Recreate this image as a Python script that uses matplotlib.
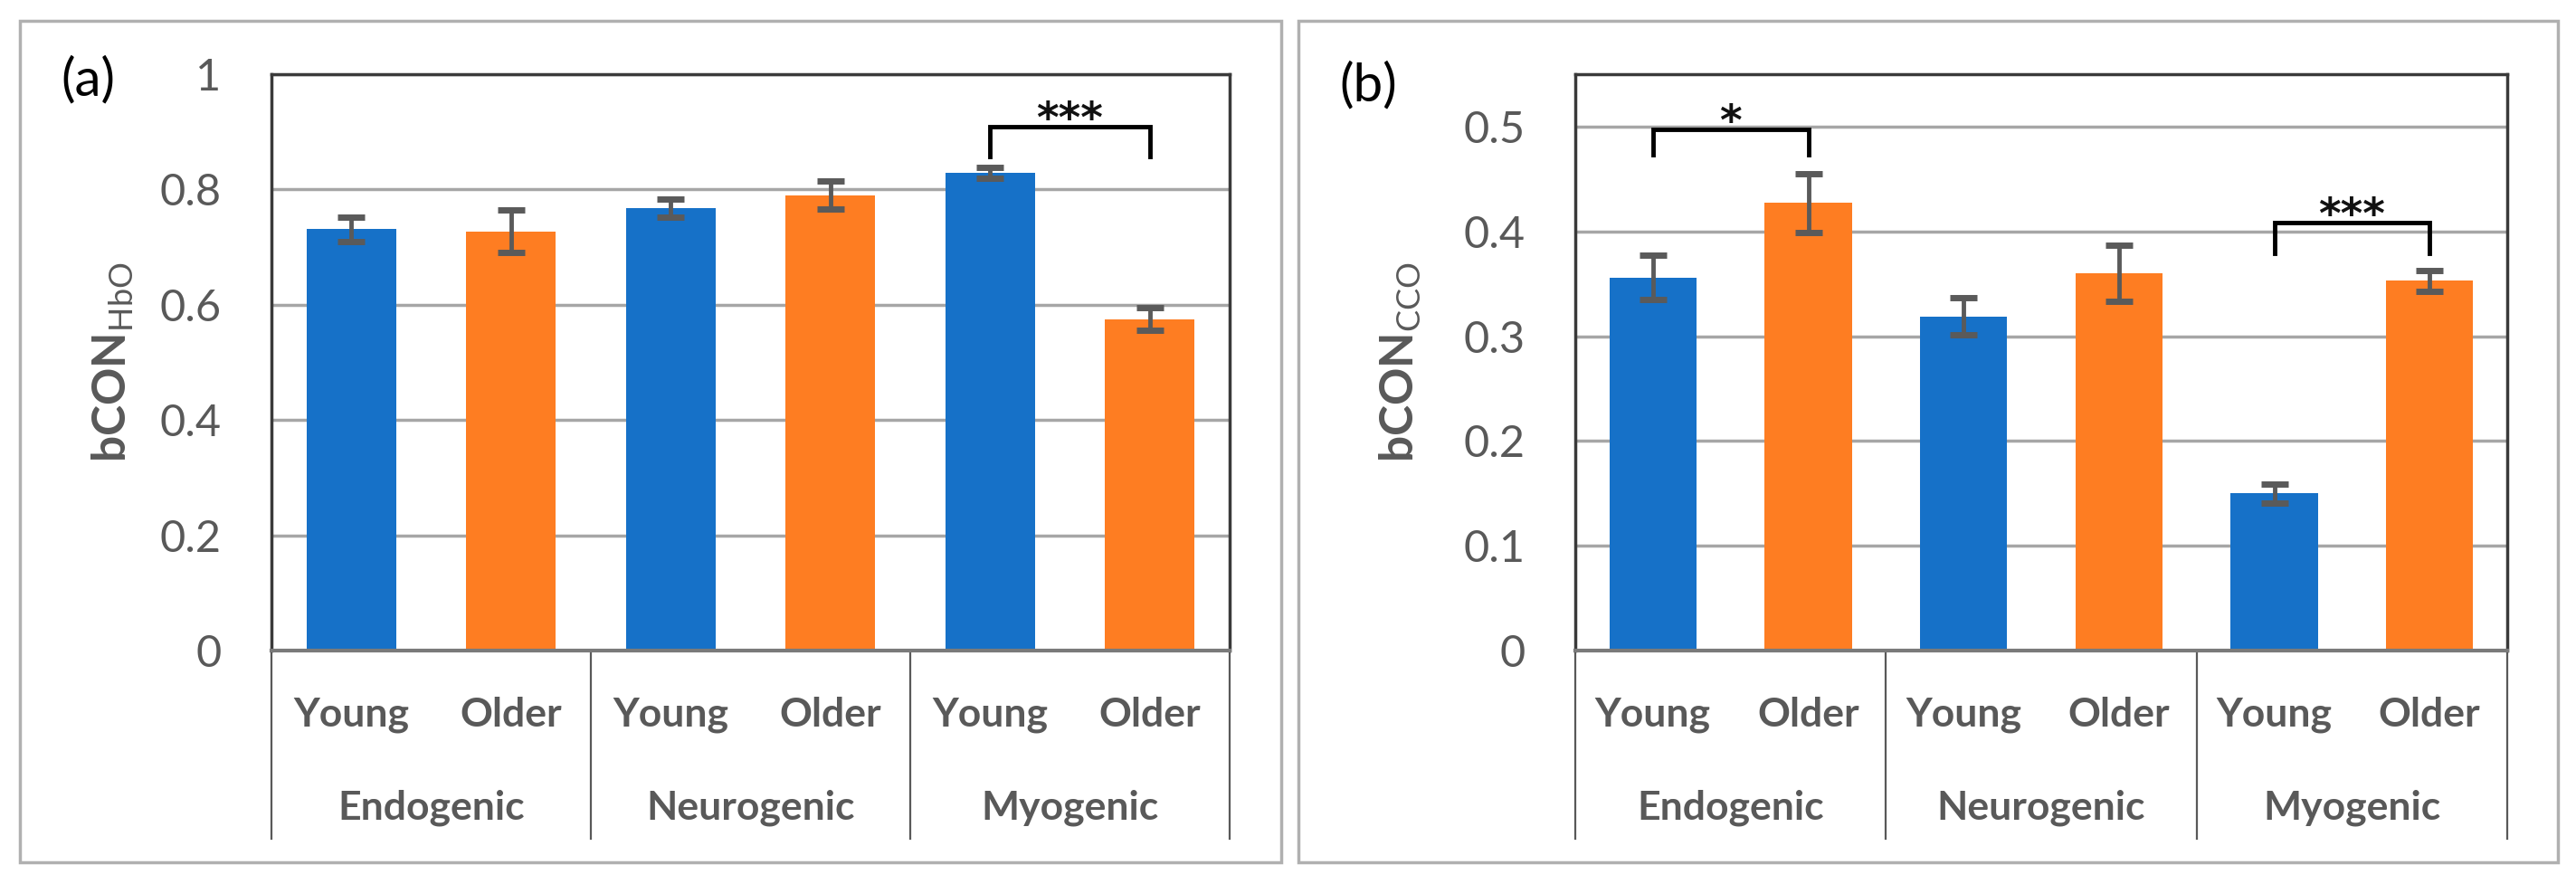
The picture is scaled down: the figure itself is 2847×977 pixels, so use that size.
import matplotlib
matplotlib.use("Agg")
import matplotlib.pyplot as plt
import matplotlib.transforms as mtransforms
from matplotlib.patches import Rectangle
import numpy as np

plt.rcParams['font.family'] = ['Lato', 'DejaVu Sans']
plt.rcParams['mathtext.fontset'] = 'custom'
plt.rcParams['mathtext.rm'] = 'Lato'
plt.rcParams['mathtext.bf'] = 'Lato:bold'

groups = ["Endogenic", "Neurogenic", "Myogenic"]
ages = ["Young", "Older"]

# panel (a): bCON HbO
hbo_young = [0.731, 0.768, 0.829]
hbo_older = [0.727, 0.790, 0.575]
hbo_young_err = [0.021, 0.016, 0.009]
hbo_older_err = [0.037, 0.024, 0.020]

# panel (b): bCON CCO
cco_young = [0.356, 0.319, 0.150]
cco_older = [0.427, 0.360, 0.353]
cco_young_err = [0.021, 0.018, 0.009]
cco_older_err = [0.028, 0.027, 0.010]

hbo_ticks = [0, 0.2, 0.4, 0.6, 0.8, 1.0]
hbo_ticklabels = ["0", "0.2", "0.4", "0.6", "0.8", "1"]
cco_ticks = [0, 0.1, 0.2, 0.3, 0.4, 0.5]
cco_ticklabels = ["0", "0.1", "0.2", "0.3", "0.4", "0.5"]

# significance brackets: group, bracket level, leg end, stars
hbo_sig = [(2, 0.909, 0.857, "***")]
cco_sig = [(0, 0.497, 0.473, "*"), (2, 0.408, 0.379, "***")]

BLUE = '#1671C8'
ORANGE = '#FE7D22'
GRAY = '#595959'

W, H = 2847, 977
fig = plt.figure(figsize=(W / 100, H / 100), dpi=100)


def draw_panel(ax, young, older, young_err, older_err, ymax, ticks, ticklabels, sig):
    x = np.arange(6)
    vals = [v for pair in zip(young, older) for v in pair]
    errs = [e for pair in zip(young_err, older_err) for e in pair]
    colors = [BLUE, ORANGE] * 3
    ax.bar(x, vals, width=0.56, color=colors, zorder=2)
    ax.errorbar(x, vals, yerr=errs, fmt='none', ecolor='#5a5a5a', elinewidth=3.5,
                capsize=11, capthick=5, zorder=3)
    ax.set_xlim(-0.5, 5.5)
    ax.set_ylim(0, ymax)
    ax.set_yticks(ticks)
    ax.set_yticklabels(ticklabels)
    ax.yaxis.grid(True, color='#A6A6A6', lw=2.5)
    ax.set_axisbelow(True)
    ax.tick_params(axis='y', length=0, pad=40, labelsize=35, labelcolor=GRAY)
    ax.set_xticks(x)
    ax.set_xticklabels([])
    ax.tick_params(axis='x', direction='in', length=7, width=1.5, color=GRAY)
    for s in ['left', 'top', 'right']:
        ax.spines[s].set_color('#3a3a3a')
        ax.spines[s].set_linewidth(2.5)
    ax.spines['bottom'].set_color('#7a7a7a')
    ax.spines['bottom'].set_linewidth(3)

    trans = mtransforms.blended_transform_factory(ax.transData, ax.transAxes)
    for b in [-0.5, 1.5, 3.5, 5.5]:
        ax.plot([b, b], [0, -0.3265], transform=trans, clip_on=False, color=GRAY, lw=1.6)
    for i in x:
        ax.text(i, -0.111, ages[i % 2], transform=trans, ha='center', va='center',
                fontsize=32, fontweight='bold', color=GRAY)
    for g, name in enumerate(groups):
        ax.text(2 * g + 0.5, -0.272, name, transform=trans, ha='center', va='center',
                fontsize=32, fontweight='bold', color=GRAY)

    for g, top, leg, stars in sig:
        x0, x1 = 2 * g, 2 * g + 1
        ax.plot([x0, x0, x1, x1], [leg, top, top, leg], color='black', lw=3.5,
                solid_joinstyle='miter', zorder=4)
        ax.annotate(stars, (x0 + 0.5, top), xytext=(0, -4), textcoords='offset points',
                    ha='center', va='baseline', fontsize=34, fontweight='bold',
                    family='DejaVu Sans', color='#111111')


ax_a = fig.add_axes([300 / W, 1 - 719 / H, 1059 / W, 637 / H])
draw_panel(ax_a, hbo_young, hbo_older, hbo_young_err, hbo_older_err, 1.0,
           hbo_ticks, hbo_ticklabels, hbo_sig)
ax_b = fig.add_axes([1741 / W, 1 - 719 / H, 1030 / W, 637 / H])
draw_panel(ax_b, cco_young, cco_older, cco_young_err, cco_older_err, 0.55,
           cco_ticks, cco_ticklabels, cco_sig)

fig.text(125 / W, 1 - 400 / H, r'$\mathbf{bCON}_{\mathrm{HbO}}$', rotation=90,
         ha='center', va='center', fontsize=37, color=GRAY)
fig.text(1548 / W, 1 - 400 / H, r'$\mathbf{bCON}_{\mathrm{CCO}}$', rotation=90,
         ha='center', va='center', fontsize=37, color=GRAY)

fig.text(97 / W, 1 - 89 / H, '(a)', ha='center', va='center', fontsize=42, color='black')
fig.text(1512 / W, 1 - 95 / H, '(b)', ha='center', va='center', fontsize=42, color='black')

# outer panel frames
for left, right in [(22, 1416), (1435, 2827)]:
    fig.patches.append(Rectangle((left / W, 1 - 953 / H), (right - left) / W, (953 - 23) / H,
                                 transform=fig.transFigure, fill=False,
                                 ec='#B0B0B0', lw=2.5))

fig.savefig('out.png', dpi=100, facecolor='white')
